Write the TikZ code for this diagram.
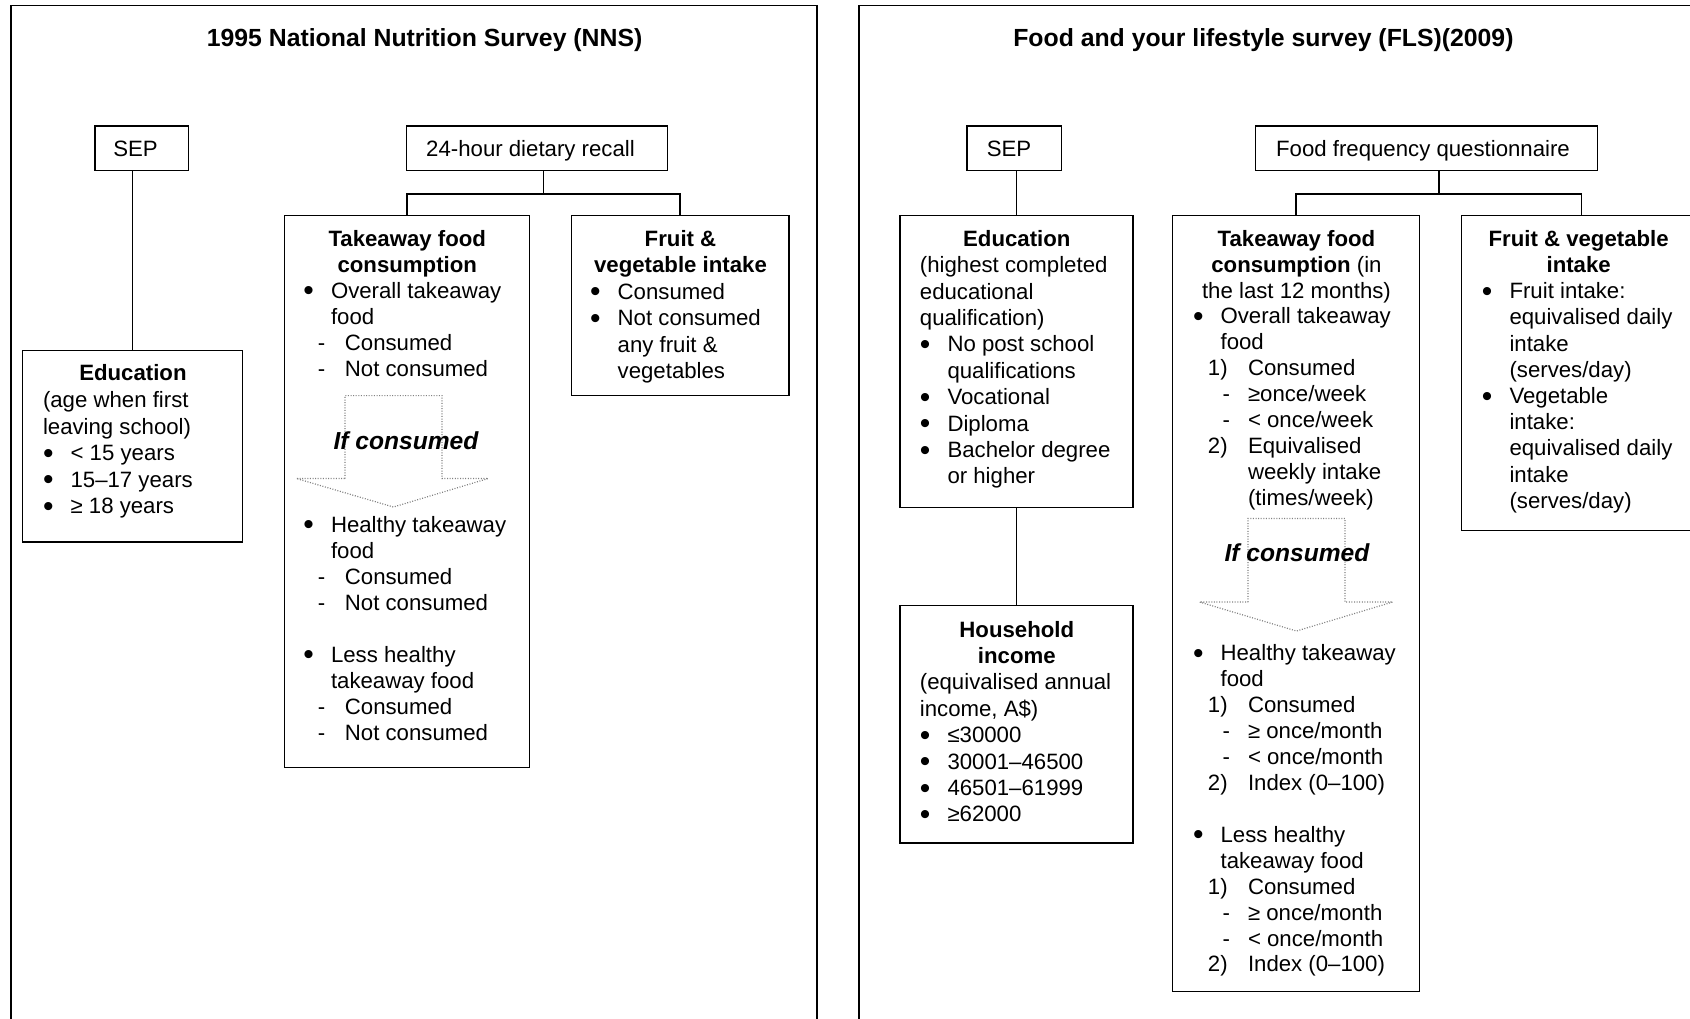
\documentclass[tikz,border=0pt]{standalone}
\usepackage{fontspec}
\usepackage{graphicx}
\setmainfont{Liberation Sans}
\usetikzlibrary{fit,calc}
\newcommand{\bl}{\makebox[13.8pt][l]{\raisebox{-1.3pt}{\scalebox{1.35}{\textbullet}}}}
\newcommand{\ind}{\hspace*{13.8pt}}
\newcommand{\hd}[1]{\makebox[\linewidth][c]{\bfseries #1}}
\newcommand{\dsa}[1]{\hspace*{7.25pt}\makebox[13.5pt][l]{-}#1}
\newcommand{\dsb}[1]{\hspace*{14.8pt}\makebox[12.7pt][l]{-}#1}
\newcommand{\nmb}[2]{\hspace*{7.45pt}\makebox[20.05pt][l]{#1}#2}
\newcommand{\nmi}{\hspace*{27.5pt}}
\newcommand{\blank}{\mbox{}}
\begin{document}
\begin{tikzpicture}[x=0.5pt,y=-0.5pt,
 box/.style={draw, line width=0.7pt, inner sep=0pt},
 conn/.style={line width=0.7pt},
 ttl/.style={font=\fontsize{12.4}{14}\selectfont\bfseries, anchor=base, inner sep=0pt},
 lbl/.style={font=\fontsize{11.1}{13}\selectfont, anchor=base, inner sep=0pt},
 txt/.style={anchor=base west, inner sep=0pt},
 ifc/.style={font=\fontsize{12.3}{14}\selectfont\bfseries\itshape, anchor=base, inner sep=0pt},
 arrowshape/.style={draw=gray, line width=0.6pt, dash pattern=on 0.5pt off 0.8pt}]
\useasboundingbox (0,0) rectangle (1690,1018);
\clip (0,0) rectangle (1690,1018);

% frames
\node[box, fit={(10.8,5.4) (817,1040)}] (frame1) {};
\node[box, fit={(859,5.4) (1760,1040)}] (frame2) {};
\node[ttl] (title1) at (424.6,46) {1995 National Nutrition Survey (NNS)};
\node[ttl] (title2) at (1263.4,46) {Food and your lifestyle survey (FLS)(2009)};

% ---------- left panel ----------
\node[box, fit={(94.8,126.1) (188.6,170.3)}] (sep1) {};
\node[lbl] (sep1t) at (135.5,156) {SEP};
\node[box, fit={(406.3,126.1) (667.2,170.3)}] (rec1) {};
\node[lbl] (rec1t) at (530.5,156) {24-hour dietary recall};
\node[box, fit={(22.6,350.3) (242.5,542.1)}] (educ1) {};
\node[box, fit={(284.5,215.6) (529.2,767.4)}] (tk1) {};
\node[box, fit={(571.2,215.6) (789,395.6)}] (fv1) {};

\draw[conn] (sep1.south -| educ1.north) -- (educ1.north);
\coordinate (j1) at ($(tk1.north)!0.5!(fv1.north)$);
\coordinate (h1) at (j1 |- 0,194);
\draw[conn] (rec1.south -| h1) -- (h1);
\draw[conn] (tk1.north) |- (h1) -| (fv1.north);

\node[txt, font=\fontsize{11.1}{13.3}\selectfont] (educ1t) at (42.6,380.9) {\parbox[t]{89.95pt}{%
\hd{Education}\\
(age when first\\
leaving school)\\
\bl{}< 15 years\\
\bl 15–17 years\\
\bl{}≥ 18 years}};

\node[txt, font=\fontsize{11.1}{13}\selectfont] (tk1t) at (303,246.2) {\parbox[t]{103.85pt}{%
\hd{Takeaway food}\\
\hd{consumption}\\
\bl Overall takeaway\\
\ind food\\
\dsa{Consumed}\\
\dsa{Not consumed}\\
\blank\\ \blank\\ \blank\\ \blank\\ \blank\\
\bl Healthy takeaway\\
\ind food\\
\dsa{Consumed}\\
\dsa{Not consumed}\\
\blank\\
\bl Less healthy\\
\ind takeaway food\\
\dsa{Consumed}\\
\dsa{Not consumed}}};

\node[txt, font=\fontsize{11.1}{13.25}\selectfont] (fv1t) at (589.7,246.2) {\parbox[t]{90.4pt}{%
\hd{Fruit \&}\\
\hd{vegetable intake}\\
\bl Consumed\\
\bl Not consumed\\
\ind any fruit \&\\
\ind vegetables}};

\path[arrowshape] (345,478.5) -- (345,395.6) -- (442,395.6) -- (442,478.5)
  -- (488.2,478.5) -- (393.4,507) -- (296.4,478.5) -- cycle;
\node[ifc] (ifc1) at (406,449) {If consumed};

% ---------- right panel ----------
\node[box, fit={(966.8,126.1) (1061.6,170.3)}] (sep2) {};
\node[lbl] (sep2t) at (1009,156) {SEP};
\node[box, fit={(1255.6,126.1) (1597.3,170.3)}] (ffq) {};
\node[lbl] (ffqt) at (1423,156) {Food frequency questionnaire};
\node[box, fit={(900,215.6) (1132.8,507.6)}] (educ2) {};
\node[box, fit={(900,605.7) (1132.8,842.8)}] (house) {};
\node[box, fit={(1172.6,215.6) (1419.5,991.6)}] (tk2) {};
\node[box, fit={(1461.5,215.6) (1702,530.3)}] (fv2) {};

\draw[conn] (sep2.south -| educ2.north) -- (educ2.north);
\draw[conn] (educ2.south) -- (house.north);
\coordinate (j2) at ($(tk2.north)!0.5!(fv2.north)$);
\coordinate (h2) at (j2 |- 0,194);
\draw[conn] (ffq.south -| h2) -- (h2);
\draw[conn] (tk2.north) |- (h2) -| (fv2.north);

\node[txt, font=\fontsize{11.1}{13.2}\selectfont] (educ2t) at (919.5,246.2) {\parbox[t]{96.9pt}{%
\hd{Education}\\
(highest completed\\
educational\\
qualification)\\
\bl No post school\\
\ind qualifications\\
\bl Vocational\\
\bl Diploma\\
\bl Bachelor degree\\
\ind or higher}};

\node[txt, font=\fontsize{11.1}{13.2}\selectfont] (houset) at (919.5,637) {\parbox[t]{96.9pt}{%
\hd{Household}\\
\hd{income}\\
(equivalised annual\\
income, A\$)\\
\bl{}≤30000\\
\bl 30001–46500\\
\bl 46501–61999\\
\bl{}≥62000}};

\node[txt, font=\fontsize{11.1}{12.96}\selectfont] (tk2t) at (1192.6,246.2) {\parbox[t]{103.45pt}{%
\hd{Takeaway food}\\
\makebox[\linewidth][c]{\textbf{consumption} (in}\\
\makebox[\linewidth][c]{the last 12 months)}\\
\bl Overall takeaway\\
\ind food\\
\nmb{1)}{Consumed}\\
\dsb{≥once/week}\\
\dsb{< once/week}\\
\nmb{2)}{Equivalised}\\
\nmi weekly intake\\
\nmi (times/week)\\
\blank\\ \blank\\ \blank\\ \blank\\ \blank\\
\bl Healthy takeaway\\
\ind food\\
\nmb{1)}{Consumed}\\
\dsb{≥ once/month}\\
\dsb{< once/month}\\
\nmb{2)}{Index (0–100)}\\
\blank\\
\bl Less healthy\\
\ind takeaway food\\
\nmb{1)}{Consumed}\\
\dsb{≥ once/month}\\
\dsb{< once/month}\\
\nmb{2)}{Index (0–100)}}};

\node[txt, font=\fontsize{11.1}{13.1}\selectfont] (fv2t) at (1481.5,246.2) {\parbox[t]{96.75pt}{%
\hd{Fruit \& vegetable}\\
\hd{intake}\\
\bl Fruit intake:\\
\ind equivalised daily\\
\ind intake\\
\ind (serves/day)\\
\bl Vegetable\\
\ind intake:\\
\ind equivalised daily\\
\ind intake\\
\ind (serves/day)}};

\path[arrowshape] (1248,602) -- (1248,518.5) -- (1345,518.5) -- (1345,602)
  -- (1392.7,602) -- (1296.5,631) -- (1199.5,602) -- cycle;
\node[ifc] (ifc2) at (1297,561) {If consumed};
\end{tikzpicture}
\end{document}
